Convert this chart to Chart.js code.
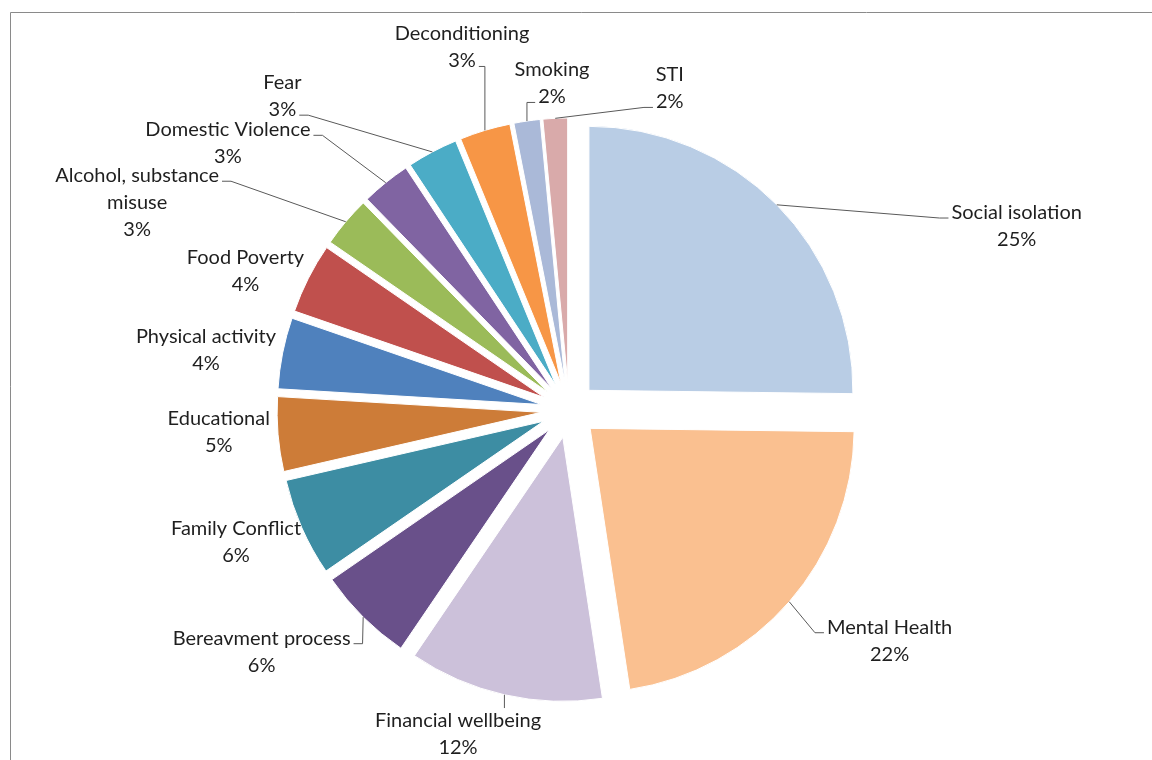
<!DOCTYPE html>
<html>
<head>
<meta charset="utf-8">
<title>Issues pie</title>
<style>
  html, body { margin: 0; padding: 0; background: #fff; overflow: hidden; }
  #wrap { width: 1152px; height: 760px; }
</style>
<script src="https://cdn.jsdelivr.net/npm/chart.js@4.4.1/dist/chart.umd.min.js"></script>
</head>
<body>
<div id="wrap"><canvas id="pie" width="1152" height="760"></canvas></div>
<script>
// data, clockwise from 12 o'clock
const categories = [
    'Social isolation', 'Mental Health', 'Financial wellbeing', 'Bereavment process',
    'Family Conflict', 'Educational', 'Physical activity', 'Food Poverty',
    'Alcohol, substance misuse', 'Domestic Violence', 'Fear', 'Deconditioning',
    'Smoking', 'STI'
];
const shares = [25.2, 22.4, 11.9, 5.9, 6.0, 4.55, 4.35, 4.3, 3.1, 3.0, 3.1, 3.1, 1.6, 1.5];
const sliceColours = [
    '#B9CDE5', '#FAC090', '#CCC1DA', '#69508A', '#3D8DA3', '#CD7C38', '#4F81BD',
    '#C0504D', '#9BBB59', '#8064A2', '#4BACC6', '#F79646', '#AAB9D8', '#D9AAAA'
];

// label placement: turn (degrees) away from the slice middle, gap (px) past the slice edge
const labelTurn = [22.3, -5.3, 6.1, 7.0, 2.2, 1.1, -1.8, -3.6, -14.5, -13.1, -14.5, 0.3, 5.3, 20.1];
const labelGap = [192, 103, 51, 99, 66, 59, 76, 60, 187, 141, 133, 86, 35, 45];
// text line the leader hooks onto (-1 = top edge, null = no leader)
const leaderLine = [0, 0, -1, 0, null, null, null, null, 0, 0, 1, 1, 1, 1];

const EXPLODE = 28;     // how far every slice is pulled out
const RADIUS = 264;
const FONT = '20px Lato, "Open Sans", sans-serif';
const LINE_H = 27;
const WRAP_AT = 210;

// pull each slice outwards by moving its own centre (library still draws the arc)
const explodePlugin = {
    id: 'explode',
    afterUpdate(chart) {
        const arcs = chart.getDatasetMeta(0).data;
        chart.$pieCentre = { x: arcs[0].x, y: arcs[0].y };
        arcs.forEach(arc => {
            const mid = (arc.startAngle + arc.endAngle) / 2;
            arc.x += EXPLODE * Math.cos(mid);
            arc.y += EXPLODE * Math.sin(mid);
        });
    },
    beforeDraw(chart) {
        // chart frame, only the top and left edges show in the shot
        const ctx = chart.ctx;
        ctx.save();
        ctx.strokeStyle = '#8a8a8a';
        ctx.lineWidth = 1;
        ctx.beginPath();
        ctx.moveTo(10.5, chart.height);
        ctx.lineTo(10.5, 12.5);
        ctx.lineTo(chart.width, 12.5);
        ctx.stroke();
        ctx.restore();
    }
};

function wrapText(ctx, text) {
    const words = text.split(' ');
    const lines = [];
    let cur = '';
    words.forEach(w => {
        const test = cur ? cur + ' ' + w : w;
        if (cur && ctx.measureText(test).width > WRAP_AT) {
            lines.push(cur);
            cur = w;
        } else {
            cur = test;
        }
    });
    lines.push(cur);
    return lines;
}

const labelPlugin = {
    id: 'sliceLabels',
    afterDatasetsDraw(chart) {
        const ctx = chart.ctx;
        const arcs = chart.getDatasetMeta(0).data;
        const values = chart.data.datasets[0].data;
        const total = values.reduce((a, b) => a + b, 0);
        const c = chart.$pieCentre;

        ctx.save();
        ctx.font = FONT;
        ctx.textAlign = 'center';
        ctx.textBaseline = 'middle';

        arcs.forEach((arc, i) => {
            const mid = (arc.startAngle + arc.endAngle) / 2;
            const r = arc.outerRadius;
            const anchor = { x: arc.x + r * Math.cos(mid), y: arc.y + r * Math.sin(mid) };

            const ang = mid + labelTurn[i] * Math.PI / 180;
            const dist = r + EXPLODE + labelGap[i];
            const cx = c.x + dist * Math.cos(ang);
            const cy = c.y + dist * Math.sin(ang);

            const lines = wrapText(ctx, chart.data.labels[i]);
            lines.push(Math.round(values[i] / total * 100) + '%');
            const lineY = k => cy + (k - (lines.length - 1) / 2) * LINE_H;

            // leader line first, text on top
            const hook = leaderLine[i];
            if (hook !== null) {
                ctx.strokeStyle = '#595959';
                ctx.lineWidth = 1;
                ctx.beginPath();
                if (hook === -1) {
                    ctx.moveTo(anchor.x, anchor.y);
                    ctx.lineTo(anchor.x, lineY(0) - 13);
                } else {
                    const k = hook === 1 ? lines.length - 1 : 0;
                    const w = ctx.measureText(lines[k]).width;
                    const side = anchor.x < cx ? -1 : 1;
                    const ax = cx + side * (w / 2 + 3);
                    const ay = lineY(k) + 5.5;
                    const dx = anchor.x - ax;
                    const ex = ax + Math.sign(dx) * Math.min(9, Math.abs(dx));
                    ctx.moveTo(ax, ay);
                    ctx.lineTo(ex, ay);
                    ctx.lineTo(anchor.x, anchor.y);
                }
                ctx.stroke();
            }

            ctx.fillStyle = '#1f1f1f';
            lines.forEach((t, k) => ctx.fillText(t, cx, lineY(k)));
        });
        ctx.restore();
    }
};

new Chart(document.getElementById('pie'), {
    type: 'pie',
    data: {
        labels: categories,
        datasets: [{
            data: shares,
            backgroundColor: sliceColours,
            borderColor: '#ffffff',
            borderWidth: 1
        }]
    },
    options: {
        responsive: false,
        animation: false,
        radius: RADIUS,
        layout: { padding: { left: 0, right: 14, top: 60, bottom: 0 } },
        plugins: {
            legend: { display: false },
            tooltip: { enabled: false }
        }
    },
    plugins: [explodePlugin, labelPlugin]
});
</script>
</body>
</html>
